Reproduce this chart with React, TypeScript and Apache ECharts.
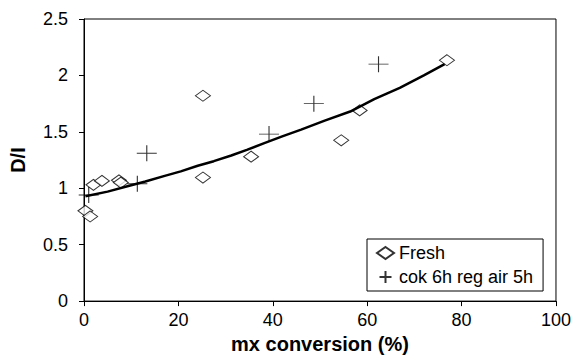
import React, { useEffect, useRef } from "react";
import * as echarts from "echarts";

const freshX = [0.3, 1.3, 2.0, 3.8, 7.4, 7.8, 25.2, 25.2, 35.4, 54.5, 58.4, 76.9];
const freshY = [0.8, 0.75, 1.03, 1.065, 1.07, 1.05, 1.82, 1.095, 1.28, 1.425, 1.69, 2.135];

const cokX = [1.0, 11.3, 13.3, 39.2, 48.7, 62.4];
const cokY = [0.94, 1.04, 1.31, 1.48, 1.75, 2.1];

const fitX = [0.3, 5, 9.4, 13, 17.1, 20.5, 24.1, 27.5, 31.2, 34.5, 38.2, 42, 46, 51, 56.4, 61.5, 66.9, 72, 76.4];
const fitY = [0.93, 0.97, 1.02, 1.06, 1.11, 1.15, 1.2, 1.24, 1.29, 1.34, 1.4, 1.46, 1.52, 1.6, 1.68, 1.79, 1.89, 2.0, 2.1];

const xTicks = [0, 20, 40, 60, 80, 100];
const yTicks = [0, 0.5, 1, 1.5, 2, 2.5];

const CROSS = "path://M0,5 L10,5 M5,0 L5,10";

export default function App() {
  const ref = useRef<HTMLDivElement>(null);
  useEffect(() => {
    if (!ref.current) return;
    const chart = echarts.init(ref.current, undefined, { renderer: "svg" });
    const font = "'Liberation Sans', Arial, sans-serif";
    chart.setOption({
      animation: false,
      textStyle: { fontFamily: font },
      grid: {
        left: 82,
        right: 17,
        top: 19,
        bottom: 57,
        show: true,
        borderColor: "#000",
        borderWidth: 1,
      },
      legend: {
        orient: "vertical",
        left: 367,
        top: 239,
        padding: [5, 10, 5, 9],
        itemGap: 6,
        itemWidth: 17,
        itemHeight: 12,
        borderColor: "#000",
        borderWidth: 1,
        backgroundColor: "#fff",
        textStyle: { fontSize: 18, color: "#000", fontFamily: font },
        data: [
          { name: "Fresh", icon: "diamond" },
          { name: "cok 6h reg air 5h", icon: CROSS },
        ],
      },
      xAxis: {
        type: "value",
        min: xTicks[0],
        max: xTicks[xTicks.length - 1],
        interval: 20,
        name: "mx conversion (%)",
        nameLocation: "middle",
        nameGap: 31,
        nameTextStyle: { fontSize: 20, fontWeight: "bold", color: "#000", fontFamily: font },
        axisLine: { lineStyle: { color: "#000", width: 1 } },
        axisTick: { show: true, length: 5, lineStyle: { color: "#000" } },
        axisLabel: { fontSize: 18, color: "#000", margin: 10, fontFamily: font },
        splitLine: { show: false },
      },
      yAxis: {
        type: "value",
        min: yTicks[0],
        max: yTicks[yTicks.length - 1],
        interval: 0.5,
        name: "D/I",
        nameLocation: "middle",
        nameGap: 56,
        nameRotate: 90,
        nameTextStyle: { fontSize: 20, fontWeight: "bold", color: "#000", fontFamily: font },
        axisLine: { show: true, lineStyle: { color: "#000", width: 1 } },
        axisTick: { show: true, length: 5, lineStyle: { color: "#000" } },
        axisLabel: { fontSize: 18, color: "#000", margin: 16, fontFamily: font },
        splitLine: { show: false },
      },
      series: [
        {
          name: "Fresh",
          type: "scatter",
          data: freshX.map((x, i) => [x, freshY[i]]),
          symbol: "diamond",
          symbolSize: [15, 11],
          itemStyle: { color: "#fff", borderColor: "#000", borderWidth: 1 },
          z: 2,
        },
        {
          name: "cok 6h reg air 5h",
          type: "scatter",
          data: cokX.map((x, i) => [x, cokY[i]]),
          symbol: CROSS,
          symbolSize: [20, 16],
          itemStyle: { color: "rgba(255,255,255,0)", borderColor: "#000", borderWidth: 1 },
          z: 3,
        },
        {
          name: "fit",
          type: "line",
          data: fitX.map((x, i) => [x, fitY[i]]),
          showSymbol: false,
          symbol: "none",
          lineStyle: { color: "#000", width: 2.5 },
          z: 4,
        },
      ],
    });
    return () => chart.dispose();
  }, []);
  return (
    <div
      ref={ref}
      style={{ position: "fixed", left: 0, top: 0, width: 574, height: 359, background: "#fff" }}
    />
  );
}
